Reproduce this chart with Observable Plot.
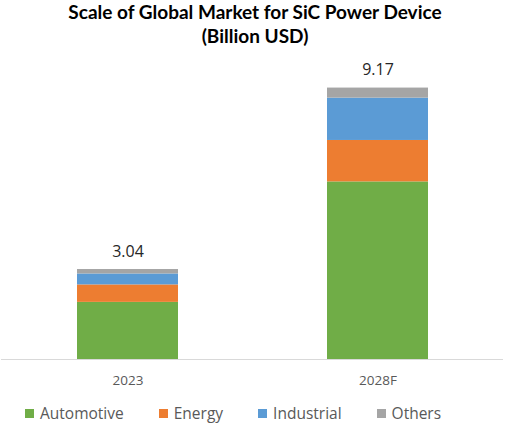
<!DOCTYPE html>
<html>
<head>
<meta charset="utf-8">
<script src="https://cdn.jsdelivr.net/npm/d3@7"></script>
<script src="https://cdn.jsdelivr.net/npm/@observablehq/plot@0.6"></script>
<style>
  body { margin: 0; background: #fff; width: 510px; height: 428px; overflow: hidden; }
  #title { height: 50px; text-align: center; font-family: Lato, sans-serif; font-weight: bold; font-size: 19px; line-height: 24px; color: #000; padding-left: 0px; }
  #legend { display: flex; align-items: center; padding-top: 8px; padding-left: 25px; font-family: "Open Sans", sans-serif; font-size: 15.5px; line-height: 20px; color: #595959; }
  .item { display: flex; align-items: center; margin-right: 35px; }
  .sw { width: 9px; height: 9px; margin-right: 6px; }
</style>
</head>
<body>
<div id="title">Scale of Global Market for SiC Power Device<br>(Billion USD)</div>
<div id="chart"></div>
<div id="legend"></div>
<script>
const years = ["2023", "2028F"];
const segments = ["Automotive", "Energy", "Industrial", "Others"];
const automotive = [1.93, 6.00];
const energy = [0.59, 1.40];
const industrial = [0.37, 1.43];
const others = [0.15, 0.34];
const totals = [3.04, 9.17];
const colors = ["#70ad47", "#ed7d31", "#5b9bd5", "#a5a5a5"];

const seriesValues = [automotive, energy, industrial, others];
const rows = [];
years.forEach((yr, i) => {
  segments.forEach((seg, j) => rows.push({year: yr, segment: seg, value: seriesValues[j][i]}));
});
const totalRows = years.map((yr, i) => ({year: yr, total: totals[i]}));

const plot = Plot.plot({
  width: 510,
  height: 345,
  marginTop: 13,
  marginBottom: 36,
  marginLeft: 1,
  marginRight: 7,
  style: {fontFamily: "'Open Sans', sans-serif", background: "transparent"},
  x: {domain: years, paddingInner: 0.598, paddingOuter: 0.3, label: null},
  y: {domain: [0, 10], axis: null},
  color: {domain: segments, range: colors},
  marks: [
    Plot.barY(rows, {x: "year", y: "value", fill: "segment", order: segments}),
    Plot.ruleY([0], {stroke: "#d9d9d9", strokeWidth: 1.2}),
    Plot.text(totalRows, {x: "year", y: "total", text: d => d.total.toFixed(2), dy: -18, fontSize: 16, fill: "#262626"}),
    Plot.axisX({tickSize: 0, tickPadding: 16, fontSize: 13.5, color: "#595959", label: null})
  ]
});
document.getElementById("chart").appendChild(plot);

const legend = document.getElementById("legend");
segments.forEach((seg, j) => {
  const item = document.createElement("div");
  item.className = "item";
  const sw = document.createElement("div");
  sw.className = "sw";
  sw.style.background = colors[j];
  const label = document.createElement("span");
  label.textContent = seg;
  item.appendChild(sw);
  item.appendChild(label);
  legend.appendChild(item);
});
</script>
</body>
</html>
